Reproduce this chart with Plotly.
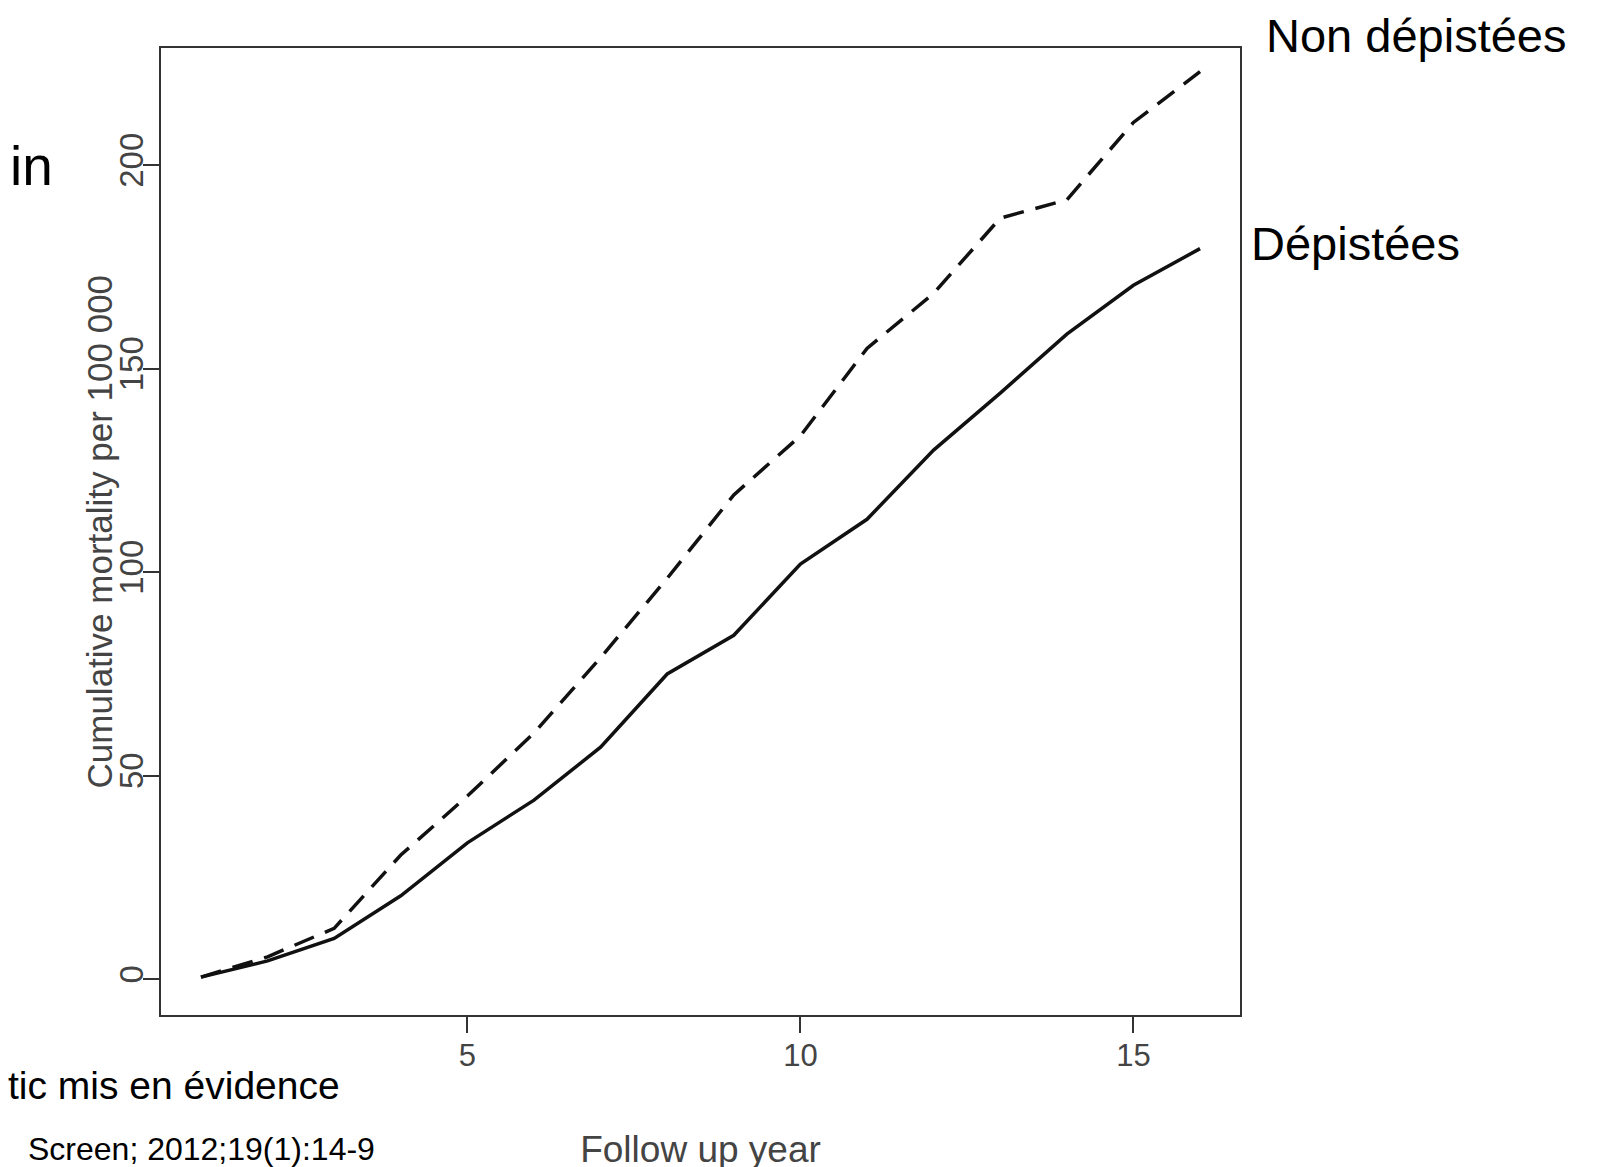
import plotly.graph_objects as go

# ---- data ----
years = list(range(1, 17))
depistees = [0.5, 4.5, 10, 20.5, 33.5, 44, 57, 75, 84.5, 102, 113, 130, 144, 158.5, 170.5, 179.5]
non_depistees = [0.5, 5.5, 12.5, 30.5, 45, 60.5, 79, 98.5, 119, 133.5, 155, 168.5, 187, 191.5, 210.5, 223]
x_ticks = [5, 10, 15]
y_ticks = [0, 50, 100, 150, 200]

W, H = 1598, 1167
L, R, T, B = 153, 1232, 40, 1011   # plot frame in pixels


def px(xp):
    return (xp - L) / (R - L)


def py(yp):
    return (B - yp) / (B - T)


FONT = "Liberation Sans, Arial, sans-serif"

fig = go.Figure()
fig.add_trace(go.Scatter(x=years, y=non_depistees, mode="lines", name="Non dépistées",
                         line=dict(color="#111111", width=3.5, dash="21px,12px"),
                         showlegend=False))
fig.add_trace(go.Scatter(x=years, y=depistees, mode="lines", name="Dépistées",
                         line=dict(color="#111111", width=3.5),
                         showlegend=False))

axis_common = dict(showgrid=False, zeroline=False, showline=True, mirror=True,
                   linecolor="#333333", linewidth=2, ticks="outside", ticklen=16,
                   tickwidth=2, tickcolor="#333333")

fig.update_xaxes(range=[0.4, 16.6], tickvals=x_ticks, ticktext=[str(v) for v in x_ticks],
                 ticklabelstandoff=-4,
                 tickfont=dict(family=FONT, size=31, color="#444444"),
                 title=dict(text="Follow up year", standoff=64,
                            font=dict(family=FONT, size=37, color="#444444")),
                 **axis_common)
fig.update_yaxes(range=[-8.8, 228.8], tickvals=y_ticks, ticktext=[str(v) for v in y_ticks],
                 tickangle=-90, ticklabelstandoff=-13,
                 tickfont=dict(family=FONT, size=33, color="#444444"),
                 **axis_common)

annotations = [
    dict(text="Cumulative mortality per 100 000", x=px(L - 62), y=0.5, xanchor="center",
         yanchor="middle", textangle=-90,
         font=dict(family=FONT, size=35, color="#444444")),
    dict(text="Non dépistées", x=px(1256), y=py(27), xanchor="left", yanchor="middle",
         font=dict(family=FONT, size=47, color="#000000")),
    dict(text="Dépistées", x=px(1241), y=py(236), xanchor="left", yanchor="middle",
         font=dict(family=FONT, size=47, color="#000000")),
    dict(text="in", x=px(47), y=py(158), xanchor="right", yanchor="middle",
         font=dict(family=FONT, size=55, color="#000000")),
    dict(text="tic mis en évidence", x=px(-2), y=py(1082), xanchor="left", yanchor="middle",
         font=dict(family=FONT, size=39, color="#000000")),
    dict(text="Screen; 2012;19(1):14-9", x=px(18), y=py(1146), xanchor="left", yanchor="middle",
         font=dict(family=FONT, size=32, color="#000000")),
]
for a in annotations:
    a.update(xref="paper", yref="paper", showarrow=False)

fig.update_layout(width=W, height=H, margin=dict(l=L, r=W - R, t=T, b=H - B),
                  paper_bgcolor="white", plot_bgcolor="white",
                  annotations=annotations)

fig.write_html("out.html")
